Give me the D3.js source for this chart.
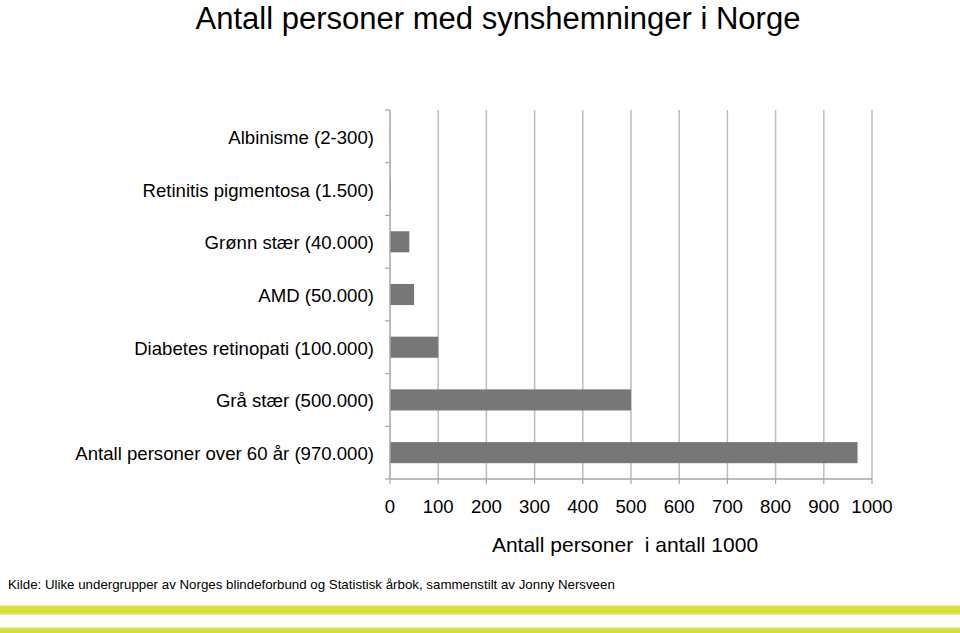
<!DOCTYPE html>
<html><head><meta charset="utf-8">
<script src="https://cdn.jsdelivr.net/npm/d3@7"></script>
<style>body{margin:0;background:#fff}svg{display:block;font-family:"Liberation Sans",Arial,sans-serif}</style>
</head><body>
<svg id="c" width="960" height="633"></svg>
<script>
const categories = ["Albinisme (2-300)","Retinitis pigmentosa (1.500)","Grønn stær (40.000)","AMD (50.000)","Diabetes retinopati (100.000)","Grå stær (500.000)","Antall personer over 60 år (970.000)"];
const values = [0.25, 1.5, 40, 50, 100, 500, 970];
const xTicks = [0,100,200,300,400,500,600,700,800,900,1000];
const title = "Antall personer med synshemninger i Norge";
const xTitle = "Antall personer  i antall 1000";
const source = "Kilde: Ulike undergrupper av Norges blindeforbund og Statistisk årbok, sammenstilt av Jonny Nersveen";

const svg = d3.select("#c");
const L = 390, R = 872, T = 110, B = 479;
const x = d3.scaleLinear().domain([0,1000]).range([L,R]);
const y = d3.scaleBand().domain(categories).range([T,B]).paddingInner(0.6).paddingOuter(0.3);
const yb = d3.scaleBand().domain(categories).range([T,B]);

svg.append("text").attr("x",498).attr("y",28.5).attr("text-anchor","middle").attr("font-size",31).attr("fill","#000").text(title);

// grid
svg.append("g").selectAll("line").data(xTicks.slice(1)).join("line")
  .attr("x1",d=>x(d)).attr("x2",d=>x(d)).attr("y1",T).attr("y2",B)
  .attr("stroke","#bdbdbd").attr("stroke-width",1.5);

// bars
svg.append("g").selectAll("rect").data(values).join("rect")
  .attr("x",x(0)).attr("y",(d,i)=>y(categories[i]))
  .attr("width",d=>Math.max(0,x(d)-x(0))).attr("height",y.bandwidth())
  .attr("fill","#777777");

// y axis
const ya = svg.append("g").attr("transform",`translate(${L},0)`);
ya.append("line").attr("x1",0).attr("x2",0).attr("y1",T).attr("y2",B).attr("stroke","#a6a6a6").attr("stroke-width",1.5);
const yTickPos = categories.map(c=>yb(c)).concat([B]);
ya.selectAll("line.t").data(yTickPos).join("line").attr("class","t")
  .attr("x1",-5).attr("x2",0).attr("y1",d=>d).attr("y2",d=>d).attr("stroke","#a6a6a6").attr("stroke-width",1.2);
ya.selectAll("text").data(categories).join("text")
  .attr("x",-16).attr("y",c=>yb(c)+yb.bandwidth()/2+1).attr("dy","0.35em")
  .attr("text-anchor","end").attr("font-size",18.6).attr("fill","#000").text(c=>c);

// x axis
const xa = svg.append("g").attr("transform",`translate(0,${B})`);
xa.append("line").attr("x1",L).attr("x2",R).attr("stroke","#a6a6a6").attr("stroke-width",1.5);
xa.selectAll("line.t").data(xTicks).join("line").attr("class","t")
  .attr("x1",d=>x(d)).attr("x2",d=>x(d)).attr("y1",0).attr("y2",5).attr("stroke","#a6a6a6").attr("stroke-width",1.2);
xa.selectAll("text").data(xTicks).join("text")
  .attr("x",d=>x(d)).attr("y",34).attr("text-anchor","middle").attr("font-size",18.6).attr("fill","#000").text(d=>d);

svg.append("text").attr("x",625).attr("y",552).attr("text-anchor","middle").attr("font-size",21)
  .attr("fill","#000").style("white-space","pre").attr("xml:space","preserve").text(xTitle);
svg.append("text").attr("x",8).attr("y",589).attr("font-size",13.3).attr("fill","#000").text(source);

// stripes
svg.append("rect").attr("x",0).attr("y",605).attr("width",960).attr("height",10).attr("fill","#e6ec94");
svg.append("rect").attr("x",0).attr("y",606.5).attr("width",960).attr("height",7).attr("fill","#d4df3c");
svg.append("rect").attr("x",0).attr("y",627).attr("width",960).attr("height",6).attr("fill","#e6ec94");
svg.append("rect").attr("x",0).attr("y",628.5).attr("width",960).attr("height",4.5).attr("fill","#d4df3c");
</script>
</body></html>
